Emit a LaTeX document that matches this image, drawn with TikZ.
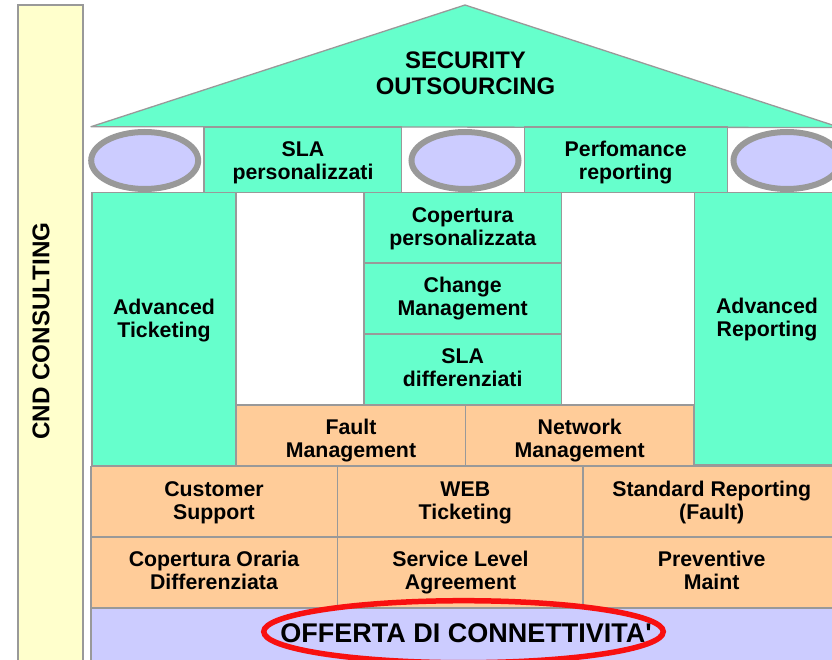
\documentclass[tikz,border=0pt]{standalone}
\usepackage{fontspec}
\setmainfont{Liberation Sans}[Ligatures=TeXOff]
\usetikzlibrary{shapes.geometric}
\definecolor{mint}{HTML}{66FFCC}
\definecolor{cream}{HTML}{FFFFCC}
\definecolor{peach}{HTML}{FFCC99}
\definecolor{lav}{HTML}{CCCCFF}
\definecolor{edgegray}{HTML}{999999}
\definecolor{ringred}{HTML}{F81010}
\tikzset{
  cell/.style={draw=edgegray,line width=1.3pt,inner sep=0pt,outer sep=0pt},
  txt/.style={align=center,inner sep=0pt,outer sep=0pt,text=black,font=\fontsize{21.3}{23}\selectfont\bfseries},
  pillar/.style={shape=ellipse,draw=edgegray,line width=6pt,fill=lav,inner sep=0pt,outer sep=0pt,minimum width=107pt,minimum height=57pt}
}
% name, x1, y1, x2, y2, fill, text x, first baseline, text
\newcommand{\cellbox}[9]{%
  \node[cell,fill=#6,minimum width={(#4-#2)*1pt},minimum height={(#5-#3)*1pt}] (#1) at ({(#2+#4)/2},{(#3+#5)/2}) {};
  \node[txt] (#1t) at (#7,#8+6.9) {#9};
}
\begin{document}
\begin{tikzpicture}[x=1pt,y=-1pt]
\clip (0,0) rectangle (832,660);
\fill[white] (0,0) rectangle (832,660);
% side bar
\node[cell,fill=cream,minimum width=65pt,minimum height=670pt] (side) at (50.5,340) {};
\node[txt,rotate=90,anchor=base,font=\fontsize{24.2}{26}\selectfont\bfseries] (sidet) at (49.3,331) {CND CONSULTING};
% roof
\coordinate (apex) at (465,5);
\coordinate (roofl) at (91,126.7);
\coordinate (roofr) at (840,127.5);
\draw[draw=edgegray,line width=1.3pt,fill=mint,line join=round] (roofl) -- (apex) -- (roofr) -- cycle;
\node[txt,font=\fontsize{23.9}{26}\selectfont\bfseries] (roof) at (465.5,68.5+7.8) {\strut SECURITY\\\strut OUTSOURCING};
% capitals and frieze
\node[pillar] (p1) at (144.7,160.5) {};
\node[pillar] (p2) at (465,160.5) {};
\node[pillar] (p3) at (787,160.5) {};
\cellbox{sla}{204}{127}{401.5}{192.5}{mint}{303}{156.8}{\strut SLA\\\strut personalizzati}
\cellbox{perf}{524.5}{127}{727.5}{192.5}{mint}{625.7}{156.8}{\strut Perfomance\\\strut reporting}
% left and right columns
\cellbox{tick}{92}{192.5}{236}{466}{mint}{164}{314}{\strut Advanced\\\strut Ticketing}
\cellbox{rep}{694.5}{192.5}{845}{465}{mint}{767}{313.5}{\strut Advanced\\\strut Reporting}
% centre column
\cellbox{cop}{364}{192.5}{561.8}{263}{mint}{462.7}{222.5}{\strut Copertura\\\strut personalizzata}
\cellbox{chg}{364}{263}{561.8}{334}{mint}{462.7}{292}{\strut Change\\\strut Management}
\cellbox{dif}{364}{334}{561.8}{405}{mint}{462.7}{363.8}{\strut SLA\\\strut differenziati}
% management row
\cellbox{fault}{236}{405}{465.7}{466}{peach}{351}{434}{\strut Fault\\\strut Management}
\cellbox{net}{465.7}{405}{694}{466}{peach}{579.7}{434}{\strut Network\\\strut Management}
% lower rows
\cellbox{cust}{91}{466.5}{337.5}{537}{peach}{214}{496.4}{\strut Customer\\\strut Support}
\cellbox{web}{337.5}{466.5}{583}{537}{peach}{465.3}{496.4}{\strut WEB\\\strut Ticketing}
\cellbox{std}{583}{466.5}{845}{537}{peach}{711.7}{496.4}{\strut Standard Reporting\\\strut (Fault)}
\cellbox{ora}{91}{537}{337.5}{608}{peach}{214}{566}{\strut Copertura Oraria\\\strut Differenziata}
\cellbox{lvl}{337.5}{537}{583}{608}{peach}{460.5}{566}{\strut Service Level\\\strut Agreement}
\cellbox{prev}{583}{537}{845}{608}{peach}{711.7}{566}{\strut Preventive\\\strut Maint}
% base
\node[cell,fill=lav,minimum width=760pt,minimum height=62pt] (base) at (471,639) {};
\node[shape=ellipse,draw=ringred,line width=5.5pt,inner sep=0pt,outer sep=0pt,minimum width=399.5pt,minimum height=62pt] (ring) at (463.5,631.7) {};
\node[txt,anchor=base,font=\fontsize{27}{30}\selectfont\bfseries] (offer) at (466,642) {OFFERTA DI CONNETTIVITA'};
\end{tikzpicture}
\end{document}
